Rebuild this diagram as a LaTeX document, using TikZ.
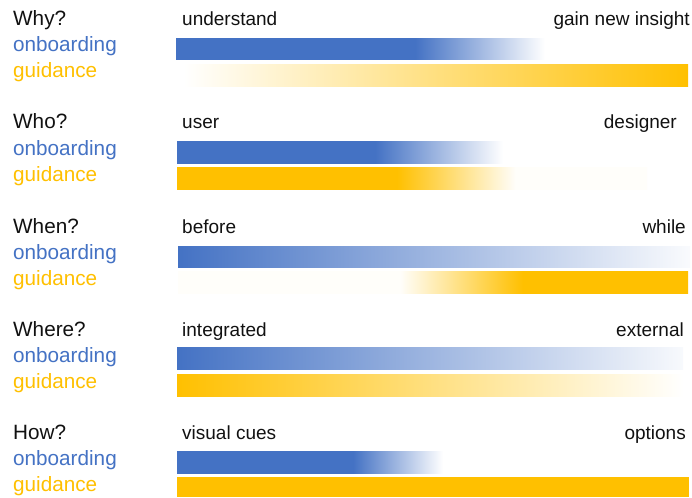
\documentclass[tikz,border=0pt]{standalone}
\usepackage{fontspec}
\setmainfont{Liberation Sans}
\definecolor{obblue}{HTML}{4472C4}
\definecolor{gdyellow}{HTML}{FFC000}
\definecolor{txt}{HTML}{111111}
\colorlet{faintyellow}{gdyellow!2}
\colorlet{faintblue}{obblue!3}
\pgfdeclarehorizontalshading{whyblue}{100bp}{color(0bp)=(obblue); color(25bp)=(obblue); color(57.4bp)=(obblue); color(75bp)=(white); color(100bp)=(white)}
\pgfdeclarehorizontalshading{whoblue}{100bp}{color(0bp)=(obblue); color(25bp)=(obblue); color(55.4bp)=(obblue); color(75bp)=(white); color(100bp)=(white)}
\pgfdeclarehorizontalshading{whoyellow}{100bp}{color(0bp)=(gdyellow); color(25bp)=(gdyellow); color(48.4bp)=(gdyellow); color(61bp)=(faintyellow); color(75bp)=(faintyellow); color(100bp)=(faintyellow)}
\pgfdeclarehorizontalshading{whenyellow}{100bp}{color(0bp)=(faintyellow); color(25bp)=(faintyellow); color(46.8bp)=(faintyellow); color(58.8bp)=(gdyellow); color(75bp)=(gdyellow); color(100bp)=(gdyellow)}
\pgfdeclarehorizontalshading{howblue}{100bp}{color(0bp)=(obblue); color(25bp)=(obblue); color(58.1bp)=(obblue); color(75bp)=(white); color(100bp)=(white)}
\begin{document}
\begin{tikzpicture}[x=1pt,y=-1pt,
  lbl/.style={anchor=base west, inner sep=0pt, font=\fontsize{20.7}{24}\selectfont},
  qlbl/.style={lbl, text=txt},
  oblbl/.style={lbl, text=obblue},
  gdlbl/.style={lbl, text=gdyellow},
  endl/.style={anchor=base west, inner sep=0pt, text=txt, font=\fontsize{19}{22}\selectfont},
  endr/.style={anchor=base east, inner sep=0pt, text=txt, font=\fontsize{19}{22}\selectfont}]
\useasboundingbox[fill=white] (0,0) rectangle (692,497);

% Row 1: Why?
\node[qlbl] (why) at (13,26) {Why?};
\node[oblbl] (ob1) at (13,52) {onboarding};
\node[gdlbl] (gd1) at (13,78) {guidance};
\node[endl] (l1) at (182,26) {understand};
\node[endr] (r1) at (690,26) {gain new insight};
\shade[shading=whyblue] (176,39) rectangle (545,60);
\shade[left color=white, right color=gdyellow] (184,65) rectangle (688,87);

% Row 2: Who?
\node[qlbl] (who) at (13,129) {Who?};
\node[oblbl] (ob2) at (13,155) {onboarding};
\node[gdlbl] (gd2) at (13,181) {guidance};
\node[endl] (l2) at (182,129) {user};
\node[endr] (r2) at (677,129) {designer};
\shade[shading=whoblue] (177,142) rectangle (503,163);
\shade[shading=whoyellow] (177,167) rectangle (647,189);

% Row 3: When?
\node[qlbl] (when) at (13,233) {When?};
\node[oblbl] (ob3) at (13,259) {onboarding};
\node[gdlbl] (gd3) at (13,285) {guidance};
\node[endl] (l3) at (182,233) {before};
\node[endr] (r3) at (686,233) {while};
\shade[left color=obblue, right color=faintblue] (178,246) rectangle (690,267);
\shade[shading=whenyellow] (178,271) rectangle (688,293);

% Row 4: Where?
\node[qlbl] (where) at (13,336) {Where?};
\node[oblbl] (ob4) at (13,362) {onboarding};
\node[gdlbl] (gd4) at (13,388) {guidance};
\node[endl] (l4) at (182,336) {integrated};
\node[endr] (r4) at (684,336) {external};
\shade[left color=obblue, right color=obblue!4] (177,347) rectangle (683,369);
\shade[left color=gdyellow, right color=white] (177,374) rectangle (683,396);

% Row 5: How?
\node[qlbl] (how) at (13,439) {How?};
\node[oblbl] (ob5) at (13,465) {onboarding};
\node[gdlbl] (gd5) at (13,491) {guidance};
\node[endl] (l5) at (182,439) {visual cues};
\node[endr] (r5) at (686,439) {options};
\shade[shading=howblue] (177,451) rectangle (443,473);
\fill[gdyellow] (177,477) rectangle (689,497);
\end{tikzpicture}
\end{document}
